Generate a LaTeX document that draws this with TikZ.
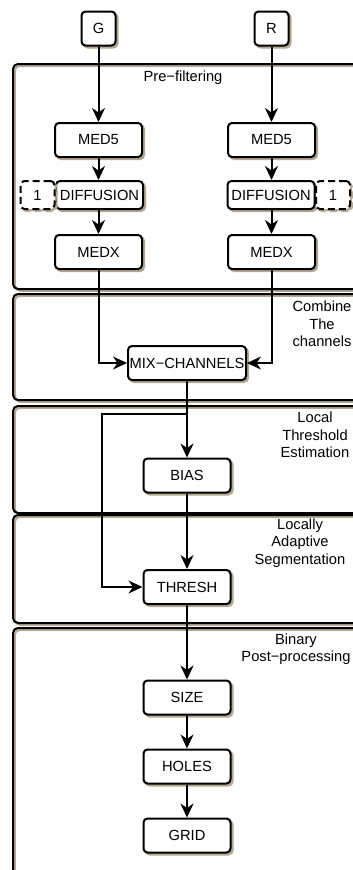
\documentclass[tikz,border=0pt]{standalone}
\usepackage{fontspec}
\setmainfont{Liberation Sans}
\usetikzlibrary{arrows.meta}
\definecolor{shade}{RGB}{178,168,148}
\tikzset{
  x=1pt, y=-1pt,
  txt/.style={font=\fontsize{14.7}{17.5}\selectfont},
  wire/.style={line width=2pt},
  flow/.style={wire, -{Stealth[length=14pt,width=13pt,inset=4.5pt]}},
  boxshadow/.style={preaction={fill=shade, draw=shade, line width=2pt,
      transform canvas={shift={(2pt,-2pt)}}}},
  stepbox/.style={txt, draw, line width=2pt, rounded corners=4pt, fill=white,
      minimum width=87pt, minimum height=34pt, inner sep=0pt, boxshadow},
  inbox/.style={stepbox, minimum width=34pt, minimum height=34pt},
  diffbox/.style={stepbox, minimum height=28pt},
  parambox/.style={stepbox, dash pattern=on 7pt off 4pt, minimum width=34pt, minimum height=28pt},
  panel/.style={wire, rounded corners=5pt,
      preaction={draw=shade, line width=2pt, transform canvas={shift={(1.8pt,-1.8pt)}}}},
  paneltitle/.style={txt, align=center, inner sep=0pt}
}
\begin{document}
\begin{tikzpicture}
\useasboundingbox (0,0) rectangle (353,870);
\clip (0,0) rectangle (353,870);
\fill[white] (0,0) rectangle (353,870);

% stage panels
\draw[panel] (13,64) rectangle (372,289);
\draw[panel] (13,294) rectangle (372,400);
\draw[panel] (13,406) rectangle (372,513);
\draw[panel] (13,515) rectangle (372,623);
\draw[panel] (13,628) rectangle (372,900);

\node[paneltitle] (t1) at (183,78) {Pre−filtering};
\node[paneltitle] (t2) at (322,324) {Combine\\The\\channels};
\node[paneltitle] (t3) at (315,435) {Local\\Threshold\\Estimation};
\node[paneltitle] (t4) at (300,543) {Locally\\Adaptive\\Segmentation};
\node[paneltitle] (t5) at (296,649) {Binary\\Post−processing};

% input channels
\node[inbox] (G) at (98.5,28.5) {G};
\node[inbox] (R) at (271.5,28.5) {R};

% green channel filters
\node[stepbox] (med5g) at (98.5,140) {MED5};
\node[diffbox] (difg) at (99.5,195) {DIFFUSION};
\node[parambox] (pg) at (37.5,195) {1};
\node[stepbox] (medxg) at (98.5,252) {MEDX};

% red channel filters
\node[stepbox] (med5r) at (271.5,140) {MED5};
\node[diffbox] (difr) at (271,195) {DIFFUSION};
\node[parambox] (pr) at (333,195) {1};
\node[stepbox] (medxr) at (271.5,252) {MEDX};

% main chain
\node[stepbox, minimum width=118pt] (mix) at (187,363) {MIX−CHANNELS};
\node[stepbox] (bias) at (187,475.5) {BIAS};
\node[stepbox] (thresh) at (187,587) {THRESH};
\node[stepbox] (size) at (187,697.5) {SIZE};
\node[stepbox] (holes) at (187,766.5) {HOLES};
\node[stepbox] (grid) at (187,835.5) {GRID};

\coordinate (split) at (187,414);
\coordinate (bend) at (102,414);

% connectors
\draw[flow] (G) -- (med5g);
\draw[flow] (med5g) -- (difg.north -| med5g);
\draw[flow] (difg.south -| medxg) -- (medxg);
\draw[flow] (medxg) |- (mix);
\draw[flow] (R) -- (med5r);
\draw[flow] (med5r) -- (difr.north -| med5r);
\draw[flow] (difr.south -| medxr) -- (medxr);
\draw[flow] (medxr) |- (mix);
\draw[flow] (mix) -- (bias);
\draw[flow] (split) -- (bend) |- (thresh);
\draw[flow] (bias) -- (thresh);
\draw[flow] (thresh) -- (size);
\draw[flow] (size) -- (holes);
\draw[flow] (holes) -- (grid);
\end{tikzpicture}
\end{document}
